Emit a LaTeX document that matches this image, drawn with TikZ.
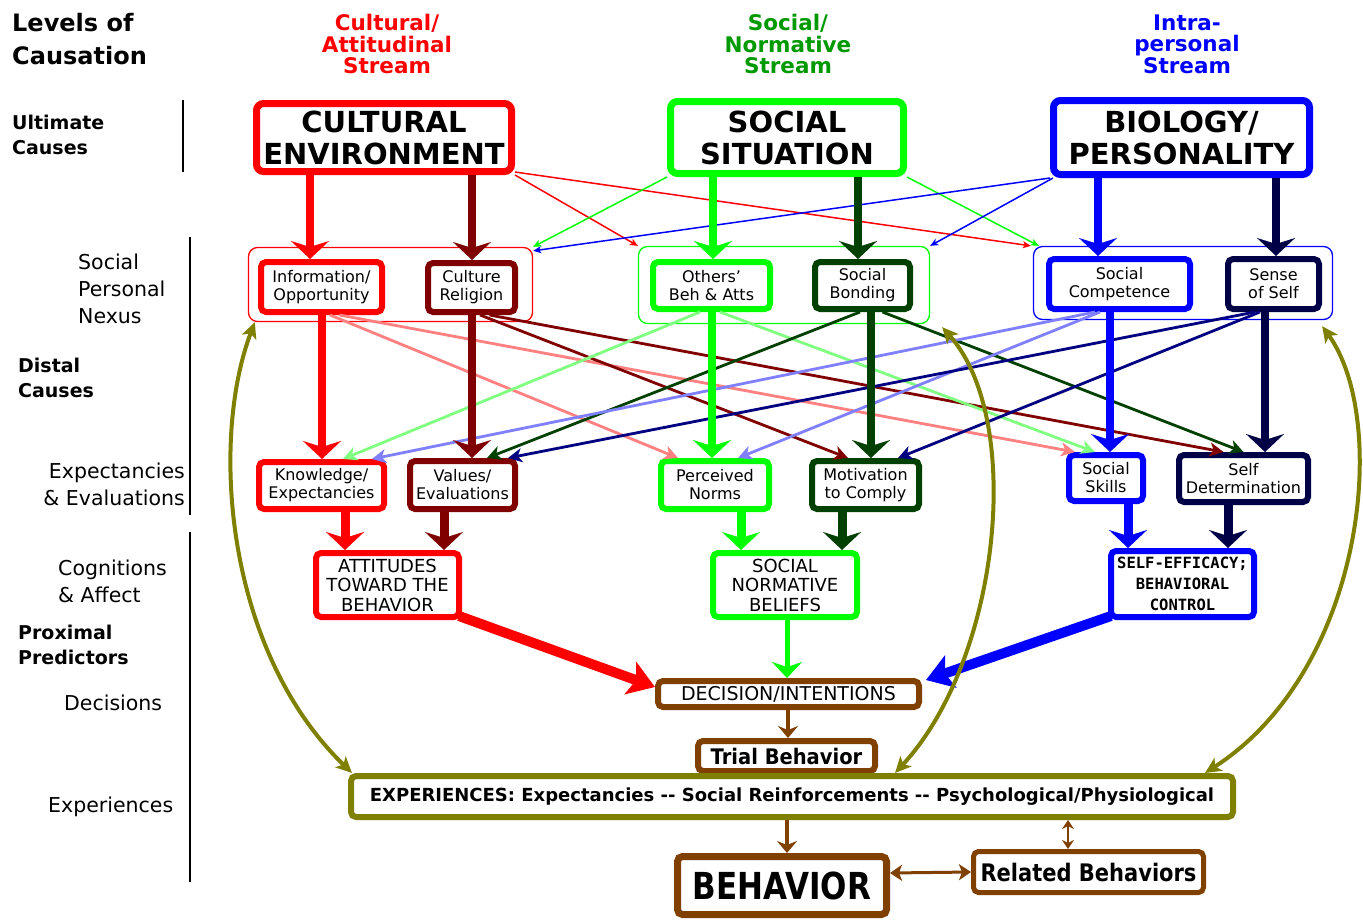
\documentclass[tikz,border=0pt]{standalone}
\usepackage{fontspec}
\usepackage{graphicx}
\setmainfont{DejaVu Sans}
\newfontfamily\monob{DejaVu Sans Mono}
\usetikzlibrary{arrows.meta}
\definecolor{myred}{HTML}{FF0000}
\definecolor{mydred}{HTML}{800000}
\definecolor{mygreen}{HTML}{00FF00}
\definecolor{mydgreen}{HTML}{004000}
\definecolor{myblue}{HTML}{0000FF}
\definecolor{mynavy}{HTML}{000046}
\definecolor{mypink}{HTML}{FF8080}
\definecolor{mylgreen}{HTML}{80FF80}
\definecolor{mylblue}{HTML}{8080FF}
\definecolor{mynavyline}{HTML}{000080}
\definecolor{myolive}{HTML}{808000}
\definecolor{mybrown}{HTML}{804000}
\definecolor{mygreenhead}{HTML}{009900}
\newcommand\setfs[2]{\fontsize{#1}{#2}\selectfont}
\tikzset{
 dbox/.style={draw=#1, line width=6pt, rounded corners=5pt, fill=white, inner sep=0pt, align=center, text=black},
 bigbox/.style={dbox=#1, line width=7pt, rounded corners=7pt, font=\bfseries\setfs{29}{32}},
 contbox/.style={draw=#1, line width=1.3pt, rounded corners=9pt, inner sep=0pt},
 tin/.style={font=\setfs{16}{18}},
 tcog/.style={font=\setfs{18}{19.5}},
 bigtip/.style={-{Stealth[length=18pt,width=38pt,inset=6pt]}},
 varr/.style={draw=#1, line width=8pt, bigtip},
 thinarr/.style={draw=#1, line width=1.5pt, -{Stealth[length=8pt,width=7pt,inset=2pt]}},
 midarr/.style={draw=#1, line width=2.8pt, -{Stealth[length=14pt,width=14pt,inset=4pt]}},
 feedback/.style={draw=myolive, line width=4pt, {Stealth[length=16pt,width=15pt,inset=4pt]}-{Stealth[length=16pt,width=15pt,inset=4pt]}},
 brarr/.style={draw=mybrown, line width=4pt, -{Stealth[length=12pt,width=20pt,inset=4pt]}},
 levelrule/.style={line width=2.5pt, draw=black},
 hdr/.style={font=\bfseries\setfs{21.5}{21.5}, align=center},
 lbl/.style={font=\setfs{20.5}{27}, align=left, inner sep=0pt},
 lblb/.style={font=\bfseries\setfs{19}{25}, align=left, inner sep=0pt},
}
\begin{document}
\begin{tikzpicture}[x=1pt,y=-1pt]
\useasboundingbox[fill=white] (0,0) rectangle (1363,922);

% ---------- headers ----------
\node[anchor=north west, align=left, inner sep=0pt, font=\bfseries\setfs{24}{33}] (lvl) at (12,13) {Levels of\\Causation};
\node[hdr, text=myred] (h1) at (387,44) {Cultural/\\Attitudinal\\Stream};
\node[hdr, text=mygreenhead] (h2) at (788,44) {Social/\\Normative\\Stream};
\node[hdr, text=myblue] (h3) at (1187,44) {Intra-\\personal\\Stream};

% ---------- level labels ----------
\node[lblb, anchor=west] (ult) at (12,134.5) {Ultimate\\Causes};
\node[lbl, anchor=west] (spn) at (78,289) {Social\\Personal\\Nexus};
\node[lblb, anchor=west] (dc) at (18,377.5) {Distal\\Causes};
\node[lbl, anchor=east, align=right] (ee) at (185,484.5) {Expectancies\\\& Evaluations};
\node[lbl, anchor=west] (ca) at (58,581.5) {Cognitions\\\& Affect};
\node[lblb, anchor=west] (pp) at (18,644.5) {Proximal\\Predictors};
\node[lbl, anchor=west] (decl) at (64,703) {Decisions};
\node[lbl, anchor=west] (expl) at (48,807) {Experiences};
\draw[levelrule] (183,100) -- (183,172);
\draw[levelrule] (190,237) -- (190,515);
\draw[levelrule] (190,532) -- (190,882);

% ---------- top boxes ----------
\node[bigbox=myred, minimum width=255pt, minimum height=68pt] (ce) at (384,137.5) {CULTURAL\\ENVIRONMENT};
\node[bigbox=mygreen, minimum width=233pt, minimum height=72pt] (ss) at (787,137.5) {SOCIAL\\SITUATION};
\node[bigbox=myblue, minimum width=256pt, minimum height=74pt] (bp) at (1181.5,137.5) {BIOLOGY/\\PERSONALITY};

% ---------- containers ----------
\node[contbox=myred, minimum width=284pt, minimum height=74pt] (cr) at (390.5,284.5) {};
\node[contbox=mygreen, minimum width=291pt, minimum height=77pt] (cg) at (784,285) {};
\node[contbox=myblue, minimum width=299pt, minimum height=73pt] (cb) at (1183,283) {};

% ---------- nexus boxes ----------
\node[dbox=myred, minimum width=121pt, minimum height=50pt, tin] (info) at (321.5,287) {Information/\\Opportunity};
\node[dbox=mydred, minimum width=87pt, minimum height=49pt, tin] (cult) at (471.5,287.5) {Culture\\Religion};
\node[dbox=mygreen, minimum width=117pt, minimum height=47pt, tin] (oth) at (711.5,285.5) {Others'\\Beh \& Atts};
\node[dbox=mydgreen, minimum width=95pt, minimum height=47pt, tin] (bond) at (862.5,285.5) {Social\\Bonding};
\node[dbox=myblue, minimum width=141pt, minimum height=50pt, tin] (comp) at (1119.5,284) {Social\\Competence};
\node[dbox=mynavy, minimum width=91pt, minimum height=50pt, tin] (sense) at (1273.5,284) {Sense\\of Self};

% ---------- expectancy boxes ----------
\node[dbox=myred, minimum width=125pt, minimum height=47pt, tin] (know) at (321.5,485.5) {Knowledge/\\Expectancies};
\node[dbox=mydred, minimum width=105pt, minimum height=48pt, tin] (val) at (462.5,485) {Values/\\Evaluations};
\node[dbox=mygreen, minimum width=108pt, minimum height=48pt, tin] (perc) at (715,485) {Perceived\\Norms};
\node[dbox=mydgreen, minimum width=107pt, minimum height=48pt, tin] (mot) at (865.5,485) {Motivation\\to Comply};
\node[dbox=myblue, minimum width=74pt, minimum height=46pt, tin] (skill) at (1106,478) {Social\\Skills};
\node[dbox=mynavy, minimum width=129pt, minimum height=47pt, tin] (selfd) at (1243.5,478.5) {Self\\Determination};

% ---------- cognition boxes ----------
\node[dbox=myred, minimum width=143pt, minimum height=64pt, tcog] (att) at (387.5,585) {ATTITUDES\\TOWARD THE\\BEHAVIOR};
\node[dbox=mygreen, minimum width=144pt, minimum height=64pt, tcog] (snb) at (785,585) {SOCIAL\\NORMATIVE\\BELIEFS};
\node[dbox=myblue, minimum width=143pt, minimum height=66pt, font=\monob\bfseries\setfs{15.5}{21}] (se) at (1182.5,584) {SELF-EFFICACY;\\BEHAVIORAL\\CONTROL};

% ---------- lower boxes ----------
\node[dbox=mybrown, minimum width=261pt, minimum height=26pt, font=\setfs{19}{20}] (dec) at (788.5,694) {DECISION/INTENTIONS};
\node[dbox=mybrown, minimum width=177pt, minimum height=30pt, font=\bfseries\setfs{19.5}{20}] (trial) at (786.5,756) {\scalebox{1}[1.1]{Trial Behavior}};
\node[dbox=myolive, minimum width=882pt, minimum height=41pt, font=\bfseries\setfs{18}{20}] (exp) at (792,796.5) {EXPERIENCES: Expectancies -{}- Social Reinforcements -{}- Psychological/Physiological};
\node[dbox=mybrown, line width=7pt, minimum width=209pt, minimum height=58pt, font=\bfseries\setfs{31}{34}] (beh) at (782,885.5) {\scalebox{1}[1.2]{BEHAVIOR}};
\node[dbox=mybrown, line width=5pt, minimum width=230pt, minimum height=41pt, font=\bfseries\setfs{21}{24}] (rel) at (1088.5,872) {\scalebox{1}[1.15]{Related Behaviors}};

% ---------- thin cross links (ultimate -> nexus) ----------
\draw[thinarr=myred] (ce.south east) -- (cg.north west);
\draw[thinarr=myred] ([yshift=3pt]ce.south east) -- ([xshift=-2pt]cb.north west);
\draw[thinarr=mygreen] (ss.south west) -- (cr.north east);
\draw[thinarr=mygreen] (ss.south east) -- ([xshift=6pt]cb.north west);
\draw[thinarr=myblue] (bp.south west) -- ([yshift=-4pt]cr.north east);
\draw[thinarr=myblue] ([xshift=3pt]bp.south west) -- (cg.north east);

% ---------- mid cross links (nexus -> expectancies) ----------
\draw[midarr=mypink] ([xshift=8.5pt]info.south) -- ([xshift=-37pt]perc.north);
\draw[midarr=mypink] ([xshift=18pt]info.south) -- ([xshift=-31pt]skill.north);
\draw[midarr=mydred] ([xshift=8.5pt]cult.south) -- ([xshift=-17.5pt]mot.north);
\draw[midarr=mydred] ([xshift=18pt]cult.south) -- ([xshift=-20pt]selfd.north);
\draw[midarr=mylgreen] ([xshift=-11.5pt]oth.south) -- ([xshift=21.5pt]know.north);
\draw[midarr=mylgreen] ([xshift=8.5pt]oth.south) -- ([xshift=-11pt]skill.north);
\draw[midarr=mydgreen] ([xshift=-2.5pt]bond.south) -- ([xshift=24.5pt]val.north);
\draw[midarr=mydgreen] ([xshift=20pt]bond.south) -- (selfd.north);
\draw[midarr=mylblue] ([xshift=-24.5pt]comp.south) -- ([xshift=50.5pt]know.north);
\draw[midarr=mylblue] ([xshift=-19.5pt]comp.south) -- ([xshift=23pt]perc.north);
\draw[midarr=mynavyline] ([xshift=-18.5pt]sense.south) -- ([xshift=45.5pt]val.north);
\draw[midarr=mynavyline] ([xshift=-13.5pt]sense.south) -- ([xshift=32.5pt]mot.north);

% ---------- main vertical arrows ----------
\draw[varr=myred] ([xshift=-74pt]ce.south) -- ([xshift=-11.5pt]info.north);
\draw[varr=mydred] ([xshift=88pt]ce.south) -- ([xshift=0.5pt]cult.north);
\draw[varr=mygreen] ([xshift=-74pt]ss.south) -- ([xshift=1.5pt]oth.north);
\draw[varr=mydgreen] ([xshift=71pt]ss.south) -- ([xshift=-4.5pt]bond.north);
\draw[varr=myblue] ([xshift=-83.5pt]bp.south) -- ([xshift=-21.5pt]comp.north);
\draw[varr=mynavy] ([xshift=94.5pt]bp.south) -- ([xshift=2.5pt]sense.north);

\draw[varr=myred] ([xshift=0.5pt]info.south) -- ([xshift=0.5pt]know.north);
\draw[varr=mydred] ([xshift=0.5pt]cult.south) -- ([xshift=9.5pt]val.north);
\draw[varr=mygreen] ([xshift=0.5pt]oth.south) -- ([xshift=-3pt]perc.north);
\draw[varr=mydgreen] ([xshift=8.5pt]bond.south) -- ([xshift=5.5pt]mot.north);
\draw[varr=myblue] ([xshift=-9.5pt]comp.south) -- ([xshift=4pt]skill.north);
\draw[varr=mynavy] ([xshift=-8.5pt]sense.south) -- ([xshift=21.5pt]selfd.north);

\draw[varr=myred, line width=9pt] ([xshift=23.5pt]know.south) -- ([xshift=-42.5pt]att.north);
\draw[varr=mydred, line width=9pt] ([xshift=-18.5pt]val.south) -- ([xshift=56.5pt]att.north);
\draw[varr=mygreen, line width=9pt] ([xshift=26pt]perc.south) -- ([xshift=-44pt]snb.north);
\draw[varr=mydgreen, line width=9pt] ([xshift=-23.5pt]mot.south) -- ([xshift=57pt]snb.north);
\draw[varr=myblue, line width=9pt] ([xshift=22pt]skill.south) -- ([xshift=-54.5pt]se.north);
\draw[varr=mynavy, line width=9pt] ([xshift=-15.5pt]selfd.south) -- ([xshift=45.5pt]se.north);

% ---------- into decision ----------
\draw[draw=myred, line width=10pt, -{Stealth[length=26pt,width=34pt,inset=6pt]}] ([xshift=-3pt,yshift=4pt]att.south east) -- ([yshift=7pt]dec.west);
\draw[draw=myblue, line width=10pt, -{Stealth[length=26pt,width=34pt,inset=6pt]}] ([xshift=3pt,yshift=4pt]se.south west) -- ([xshift=4pt,yshift=-2pt]dec.north east);
\draw[draw=mygreen, line width=5pt, -{Stealth[length=16pt,width=30pt,inset=5pt]}] ([xshift=2pt]snb.south) -- ([xshift=-1.5pt]dec.north);

\draw[brarr] ([xshift=-0.5pt]dec.south) -- ([xshift=1.5pt]trial.north);
\draw[brarr] ([xshift=-5pt]exp.south) -- ([xshift=5pt]beh.north);
\draw[draw=mybrown, line width=3pt, {Stealth[length=12pt,width=16pt,inset=3pt]}-{Stealth[length=12pt,width=16pt,inset=3pt]}] ([yshift=12.5pt]beh.east) -- (rel.west);
\draw[draw=mybrown, line width=2.5pt, {Stealth[length=9pt,width=12pt,inset=3pt]}-{Stealth[length=9pt,width=12pt,inset=3pt]}] ([xshift=276pt]exp.south) -- ([xshift=-20.5pt]rel.north);

% ---------- feedback loops ----------
\draw[feedback] ([xshift=4pt]exp.north west) .. controls (225,650) and (210,440) .. ([xshift=7pt]cr.south west);
\draw[feedback] ([xshift=103pt]exp.north) .. controls (1000,660) and (1025,420) .. ([xshift=12pt,yshift=-3pt]cg.south east);
\draw[feedback] ([xshift=-31pt]exp.north east) .. controls (1365,670) and (1390,420) .. ([xshift=-11pt,yshift=-6pt]cb.south east);
\end{tikzpicture}
\end{document}
